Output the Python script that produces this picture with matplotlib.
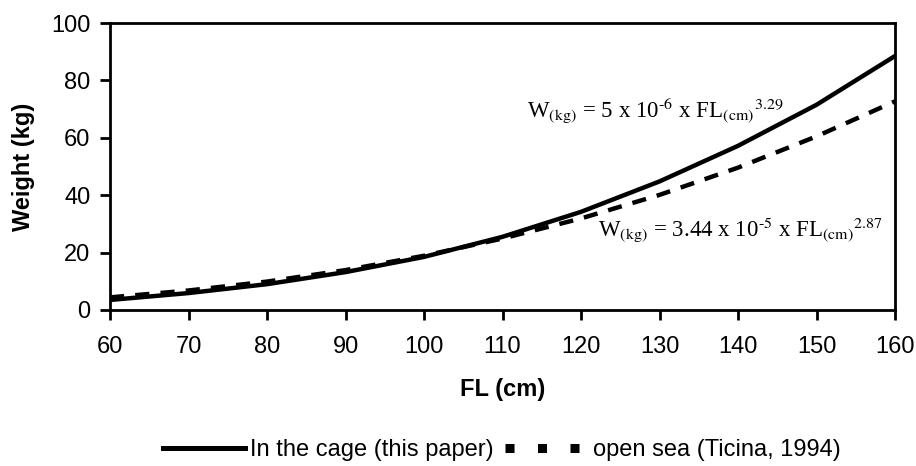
import numpy as np
import matplotlib.pyplot as plt
from matplotlib.lines import Line2D

fl = [60, 70, 80, 90, 100, 110, 120, 130, 140, 150, 160]
cage = [3.5, 5.9, 9.0, 13.2, 18.5, 25.5, 34.2, 44.8, 57.2, 71.5, 88.5]
open_sea = [4.4, 6.8, 9.9, 13.9, 18.9, 24.9, 31.9, 40.1, 49.6, 60.5, 72.7]

plt.rcParams['font.family'] = ['Liberation Sans', 'DejaVu Sans']

fig = plt.figure(figsize=(9.16, 4.66), dpi=100)
ax = fig.add_axes([110/916, 1-310/466, (895-110)/916, (310-23)/466])

ax.plot(fl, cage, color='black', lw=3.2)
ax.plot(fl, open_sea, color='black', lw=3.2, dashes=(3.2, 2.5))

ax.set_xlim(60, 160)
ax.set_ylim(0, 100)
ax.set_xticks(range(60, 161, 10))
ax.set_yticks(range(0, 101, 20))
ax.tick_params(direction='out', length=7, width=2, labelsize=17)
ax.tick_params(axis='x', pad=12, top=False)
ax.tick_params(axis='y', pad=7, right=False)
for s in ax.spines.values():
    s.set_linewidth(2)

ax.set_xlabel('FL (cm)', fontsize=17, fontweight='bold', labelpad=14)
ax.set_ylabel('Weight (kg)', fontsize=17, fontweight='bold', labelpad=12)

serif = ['Liberation Serif', 'DejaVu Serif']
ax.text(113.1, 66.9, 'W$_{\\rm (kg)}$ = 5 x 10$^{\\rm \u20106}$ x FL$_{\\rm (cm)}$$^{\\rm 3.29}$',
        fontsize=16.5, family=serif, math_fontfamily='stix', va='baseline')
ax.text(122.2, 25.4, 'W$_{\\rm (kg)}$ = 3.44 x 10$^{\\rm \u20105}$ x FL$_{\\rm (cm)}$$^{\\rm 2.87}$',
        fontsize=16.5, family=serif, math_fontfamily='stix', va='baseline')

handles = [Line2D([], [], color='black', lw=3.6),
           Line2D([], [], color='black', lw=6.5, dashes=(1.0, 2.6))]
labels = ['In the cage (this paper)', 'open sea (Ticina, 1994)']
fig.legend(handles, labels, loc='center', bbox_to_anchor=(0.5475, 1-450/466), ncol=2,
           frameon=False, fontsize=17, handlelength=3.5, handletextpad=0.2,
           columnspacing=0.5, borderpad=0)

fig.savefig('out.png', dpi=100)
